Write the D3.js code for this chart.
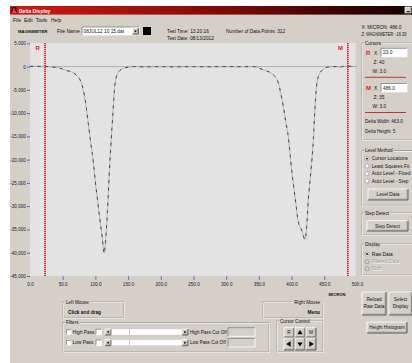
<!DOCTYPE html>
<html><head><meta charset="utf-8">
<script src="https://cdn.jsdelivr.net/npm/d3@7"></script>
<style>
html,body{margin:0;padding:0;background:#fff;overflow:hidden;}
svg{display:block;font-family:"Liberation Sans",Arial,sans-serif;}
</style></head><body>
<svg id="app" width="412" height="363"></svg>
<script>
// Scan profile: position along the part (micron) and measured height
const micron = [0, 12, 23, 31, 45, 56, 66, 71.4, 76, 79, 84.1, 89.1, 93, 96.8, 100, 104, 107, 110.5, 113.4, 115,
  118.2, 122.3, 126.4, 130, 135, 145, 158, 175, 200, 225, 250, 275, 300, 325, 341.5, 356.8, 372, 379.7,
  383.5, 387.3, 391, 395, 400.1, 405.2, 410.3, 415.4, 420.5, 423, 425.5, 429.2, 433.2, 435.8, 439.3, 446,
  456, 469, 473.5, 479.6, 490, 497];
const heightZ = [60, 40, 20, -70, -300, -857, -1300, -1930, -2700, -3700, -6920, -12200, -16500, -20500, -24800,
  -29500, -33000, -36800, -40140, -38500, -31570, -20140, -10860, -3710, -1210, -290, 0, -60, -30, -50, -20,
  -40, -10, -30, 0, -710, -1750, -3500, -5800, -8500, -11800, -15140, -22290, -28000, -33360, -35140, -37140,
  -34430, -28710, -23000, -15860, -8720, -3000, -860, -100, 0, -150, 60, 50, 50];
const yTickValues = [5000, 0, -5000, -10000, -15000, -20000, -25000, -30000, -35000, -40000, -45000];
const xTickValues = [0, 50, 100, 150, 200, 250, 300, 350, 400, 450, 500];
// Cursor readouts
const cursorNames = ["R", "M"];
const cursorX = [23.0, 486.0];
const cursorZ = [40, 35];
const cursorW = [3.0, 3.0];
const levelMethods = ["Cursor Locations", "Least Squares Fit", "Auto Level - Fixed", "Auto Level - Step"];
const displayModes = ["Raw Data", "Filtered Data", "Both"];
const menuItems = ["File", "Edit", "Tools", "Help"];

const BG = "#d4d0c8";
const svg = d3.select("#app");

function txt(g, x, y, s, o = {}) {
  const t = g.append("text").attr("x", x).attr("y", y).text(s)
    .attr("font-size", o.size || 5).attr("font-weight", o.bold ? "bold" : null)
    .attr("fill", o.fill || "#111").attr("text-anchor", o.anchor || "start");
  if (o.fit) t.attr("textLength", o.fit).attr("lengthAdjust", "spacingAndGlyphs");
  return t;
}
function raised(g, x, y, w, h) {
  g.append("rect").attr("x", x).attr("y", y).attr("width", w).attr("height", h).attr("fill", BG);
  g.append("path").attr("d", `M${x},${y + h}V${y}H${x + w}`).attr("stroke", "#fff").attr("fill", "none").attr("stroke-width", 0.8);
  g.append("path").attr("d", `M${x},${y + h}H${x + w}V${y}`).attr("stroke", "#404040").attr("fill", "none").attr("stroke-width", 0.8);
  g.append("path").attr("d", `M${x + 0.8},${y + h - 0.8}H${x + w - 0.8}V${y + 0.8}`).attr("stroke", "#808080").attr("fill", "none").attr("stroke-width", 0.6);
}
function sunken(g, x, y, w, h, fill) {
  g.append("rect").attr("x", x).attr("y", y).attr("width", w).attr("height", h).attr("fill", fill || "#fff");
  g.append("path").attr("d", `M${x},${y + h}V${y}H${x + w}`).attr("stroke", "#808080").attr("fill", "none").attr("stroke-width", 0.8);
  g.append("path").attr("d", `M${x},${y + h}H${x + w}V${y}`).attr("stroke", "#fff").attr("fill", "none").attr("stroke-width", 0.8);
}
function groupBox(g, x, y, w, h, label, anchor) {
  g.append("rect").attr("x", x).attr("y", y).attr("width", w).attr("height", h)
    .attr("fill", "none").attr("stroke", "#808080").attr("stroke-width", 0.6);
  g.append("rect").attr("x", x + 0.7).attr("y", y + 0.7).attr("width", w).attr("height", h)
    .attr("fill", "none").attr("stroke", "#fff").attr("stroke-width", 0.6);
  if (label) {
    const t = txt(g, anchor === "end" ? x + w - 3 : x + 3, y + 1.7, label, { size: 4.6, anchor: anchor });
    const b = t.node().getBBox();
    g.insert("rect", () => t.node()).attr("x", b.x - 0.6).attr("y", b.y).attr("width", b.width + 1.2)
      .attr("height", b.height).attr("fill", BG);
  }
}
function radio(g, x, cy, label, checked, disabled) {
  g.append("circle").attr("cx", x).attr("cy", cy).attr("r", 2.1).attr("fill", disabled ? BG : "#fff")
    .attr("stroke", "#808080").attr("stroke-width", 0.6);
  if (checked) g.append("circle").attr("cx", x).attr("cy", cy).attr("r", 0.9).attr("fill", disabled ? "#888" : "#000");
  if (disabled) txt(g, x + 5.2, cy + 2.2, label, { size: 4.8, fill: "#fff" });
  txt(g, x + 4.7, cy + 1.7, label, { size: 4.8, fill: disabled ? "#9a9a9a" : "#111" });
}
function tri(g, cx, cy, dir, s) {
  const p = { up: [[0, -s], [s, s * 0.6], [-s, s * 0.6]], down: [[0, s], [s, -s * 0.6], [-s, -s * 0.6]],
    left: [[-s, 0], [s * 0.6, -s], [s * 0.6, s]], right: [[s, 0], [-s * 0.6, -s], [-s * 0.6, s]] }[dir];
  g.append("path").attr("d", "M" + p.map(d => [cx + d[0], cy + d[1]].join(",")).join("L") + "Z").attr("fill", "#000");
}

// Window frame
svg.append("rect").attr("x", 10).attr("y", 6).attr("width", 402).attr("height", 357).attr("fill", BG);
const grad = svg.append("defs").append("linearGradient").attr("id", "tb");
grad.append("stop").attr("offset", "0").attr("stop-color", "#d21a14");
grad.append("stop").attr("offset", "0.55").attr("stop-color", "#7a0a06");
grad.append("stop").attr("offset", "1").attr("stop-color", "#120000");
svg.append("rect").attr("x", 10).attr("y", 6).attr("width", 402).attr("height", 8.6).attr("fill", "url(#tb)");
svg.append("rect").attr("x", 11.5).attr("y", 7.2).attr("width", 5).attr("height", 6).attr("fill", "#1a0000");
svg.append("path").attr("d", "M12,13 L14,7.5 L16.5,13Z").attr("fill", "#ff4a3a");
txt(svg, 19, 12.6, "Delta Display", { size: 5, bold: true, fill: "#fff" });
raised(svg, 405, 7, 6.5, 6.5);
svg.append("rect").attr("x", 406.6).attr("y", 11).attr("width", 3).attr("height", 0.8).attr("fill", "#000");

// Menu bar
const menuX = [13, 24, 35.7, 51];
menuItems.forEach((m, i) => txt(svg, menuX[i], 21.6, m, { size: 5 }));

// Toolbar
txt(svg, 18, 32.8, "MAGNIMETER", { size: 4.3, bold: true });
txt(svg, 57, 32.8, "File Name", { size: 5 });
sunken(svg, 82, 27, 57, 8);
txt(svg, 83.5, 33, "08JUL12 10 15.dat", { size: 4.8 });
raised(svg, 132.5, 28, 6, 6.2);
tri(svg, 135.5, 31.3, "down", 1.3);
svg.append("rect").attr("x", 143).attr("y", 27).attr("width", 8).attr("height", 8).attr("fill", "#000");
txt(svg, 167, 32.5, "Test Time: 13:20:16", { size: 4.8 });
txt(svg, 167, 39.6, "Test Date: 08/13/2012", { size: 4.8 });
txt(svg, 226, 32.5, "Number of Data Points: 312", { size: 4.8 });
txt(svg, 361.5, 29, "X: MICRON: " + cursorX[1].toFixed(1), { size: 4.5, fit: 40 });
txt(svg, 361.5, 36, "Z: MAGNIMETER: -16.30", { size: 4.5, fit: 45 });

// Plot
const x = d3.scaleLinear().domain([0, 500]).range([30, 357]);
const y = d3.scaleLinear().domain([-45000, 5000]).range([276, 43.3]);
const plotL = 30, plotR = 355.5, plotT = 43, plotB = 276;
svg.append("rect").attr("x", plotL).attr("y", plotT).attr("width", plotR - plotL).attr("height", plotB - plotT).attr("fill", "#e3e3e3");
svg.select("defs").append("clipPath").attr("id", "plotclip").append("rect")
  .attr("x", plotL).attr("y", plotT).attr("width", plotR - plotL + 1).attr("height", plotB - plotT);

const fmtY = d => d3.format(",")(d).replace("\u2212", "-");
const yAxis = svg.append("g").attr("transform", `translate(${plotL},0)`)
  .call(d3.axisLeft(y).tickValues(yTickValues).tickSize(3).tickPadding(1.2).tickFormat(fmtY));
yAxis.select(".domain").remove();
yAxis.selectAll(".tick line").attr("stroke", "#3346d8").attr("stroke-width", 0.8);
yAxis.selectAll(".tick text").attr("font-size", 4.6).attr("fill", "#222").attr("font-family", "Liberation Sans, Arial, sans-serif");

const xAxis = svg.append("g").attr("transform", `translate(0,${plotB})`)
  .call(d3.axisBottom(x).tickValues(xTickValues).tickSize(4).tickPadding(3.2).tickFormat(d3.format(".1f")));
xAxis.select(".domain").remove();
xAxis.selectAll(".tick line").attr("stroke", "#3346d8").attr("stroke-width", 0.8)
  .attr("opacity", d => (d === 0 || d === 500) ? 0 : 0.85);
xAxis.selectAll(".tick text").attr("font-size", 4.6).attr("fill", "#222").attr("font-family", "Liberation Sans, Arial, sans-serif");
txt(svg, 337, 296, "MICRON", { size: 4.2, bold: true, anchor: "middle" });

// Zero reference
svg.append("line").attr("x1", plotL).attr("x2", x(500)).attr("y1", y(0)).attr("y2", y(0))
  .attr("stroke", "#a4a4a4").attr("stroke-width", 0.8);

// Profile line: light trace with darker dashes on top
const pts = micron.map((m, i) => [m, heightZ[i]]);
const line = d3.line().x(d => x(d[0])).y(d => y(d[1])).curve(d3.curveMonotoneX);
const plotG = svg.append("g").attr("clip-path", "url(#plotclip)");
plotG.append("path").attr("d", line(pts)).attr("fill", "none").attr("stroke", "#a0a0a0").attr("stroke-width", 0.7);
plotG.append("path").attr("d", line(pts)).attr("fill", "none").attr("stroke", "#2a2a2a").attr("stroke-width", 0.8)
  .attr("stroke-dasharray", "3,4.5");

// Cursors
cursorNames.forEach((nm, i) => {
  const cx = x(cursorX[i]);
  svg.append("line").attr("x1", cx).attr("x2", cx).attr("y1", plotT).attr("y2", plotB)
    .attr("stroke", "#e85050").attr("stroke-width", 0.7);
  svg.append("line").attr("x1", cx).attr("x2", cx).attr("y1", plotT).attr("y2", plotB)
    .attr("stroke", "#e01818").attr("stroke-width", 1.6).attr("stroke-dasharray", "1,1");
  txt(svg, cx - 7.3, 49.6, nm, { size: 6, bold: true, fill: "#e01a1a", anchor: "middle" });
});

// Mouse boxes
groupBox(svg, 63, 302, 61, 16, "Left Mouse");
txt(svg, 68, 313.8, "Click and drag", { size: 4.8, bold: true });
groupBox(svg, 263, 302, 60, 16, "Right Mouse", "end");
txt(svg, 320, 313.8, "Menu", { size: 4.8, bold: true, anchor: "end" });

// Filters
groupBox(svg, 63, 322.5, 206, 29.5, "Filters");
[["High Pass", "High Pass Cut Off", 332], ["Low Pass", "Low Pass Cut Off", 342.7]].forEach(([a, b, cy]) => {
  sunken(svg, 66.5, cy - 2.2, 4.4, 4.4);
  txt(svg, 72.6, cy + 1.7, a, { size: 4.8 });
  sunken(svg, 96, cy - 2.8, 5.5, 5.5);
  svg.append("rect").attr("x", 105).attr("y", cy - 3).attr("width", 83).attr("height", 6).attr("fill", "#fff");
  raised(svg, 105, cy - 3, 6, 6); tri(svg, 108, cy, "left", 1.3);
  raised(svg, 182, cy - 3, 6, 6); tri(svg, 185, cy, "right", 1.3);
  svg.append("line").attr("x1", 129.5).attr("x2", 129.5).attr("y1", cy - 3).attr("y2", cy + 3).attr("stroke", "#aaa").attr("stroke-width", 0.6);
  svg.append("rect").attr("x", 111).attr("y", cy - 3).attr("width", 71).attr("height", 6).attr("fill", "none").attr("stroke", "#c8c8c8").attr("stroke-width", 0.4);
  txt(svg, 190, cy + 1.7, b, { size: 4.6 });
  sunken(svg, 228, cy - 4.3, 27, 8.6, BG);
});

// Cursor control
groupBox(svg, 277, 321, 46, 31, "Cursor Control");
raised(svg, 284, 327.7, 10, 9.6); txt(svg, 289, 334.3, "R", { size: 4.6, anchor: "middle" });
raised(svg, 295, 327.7, 10, 9.6); tri(svg, 300, 332.6, "up", 2.6);
raised(svg, 306, 327.7, 10, 9.6); txt(svg, 311, 334.3, "M", { size: 4.6, anchor: "middle" });
raised(svg, 284, 338, 10, 12); tri(svg, 289, 344, "left", 2.8);
raised(svg, 295, 338, 10, 12); tri(svg, 300, 344, "down", 2.6);
raised(svg, 306, 338, 10, 12); tri(svg, 311, 344, "right", 2.8);

// Right panel: cursors
groupBox(svg, 362, 43, 55, 97, "Cursors");
const rowY = [52.5, 87.7];
cursorNames.forEach((nm, i) => {
  const cy = rowY[i];
  txt(svg, 366, cy + 2.3, nm, { size: 6, bold: true, fill: "#e01a1a" });
  txt(svg, 374, cy + 2, "X", { size: 5 });
  sunken(svg, 381, cy - 4.2, 26, 8.4);
  txt(svg, 383, cy + 1.9, cursorX[i].toFixed(1), { size: 4.8 });
  txt(svg, 373.5, cy + 11.3, "Z:  " + cursorZ[i], { size: 4.8 });
  txt(svg, 372.5, cy + 20.5, "W:  " + cursorW[i].toFixed(1), { size: 4.8 });
  svg.append("line").attr("x1", 365).attr("x2", 406).attr("y1", cy + 24.8).attr("y2", cy + 24.8)
    .attr("stroke", "#b02828").attr("stroke-width", 0.9);
});
txt(svg, 365, 122.5, "Delta Width: " + (cursorX[1] - cursorX[0]).toFixed(1), { size: 4.6 });
txt(svg, 365, 132.5, "Delta Height: " + (cursorZ[0] - cursorZ[1]), { size: 4.6 });

// Level method
groupBox(svg, 362, 150.7, 55, 54.5, "Level Method");
const lmY = [158.7, 166, 173.7, 181];
levelMethods.forEach((l, i) => radio(svg, 367, lmY[i], l, i === 0, false));
raised(svg, 368, 189, 40, 11); txt(svg, 388, 196.2, "Level Data", { size: 4.8, anchor: "middle" });

// Step detect
groupBox(svg, 362, 213, 55, 22, "Step Detect");
raised(svg, 367, 220.7, 41, 10.3); txt(svg, 387.5, 227.6, "Step Detect", { size: 4.8, anchor: "middle" });

// Display
groupBox(svg, 362, 244, 55, 31, "Display");
const dmY = [254, 261.7, 268.7];
displayModes.forEach((l, i) => radio(svg, 367, dmY[i], l, i === 0, i > 0));

raised(svg, 362, 292, 24, 23);
txt(svg, 374, 301, "Reload", { size: 4.8, anchor: "middle" });
txt(svg, 374, 307.5, "Raw Data", { size: 4.8, anchor: "middle" });
raised(svg, 389, 292, 23, 23);
txt(svg, 400.5, 301, "Select", { size: 4.8, anchor: "middle" });
txt(svg, 400.5, 307.5, "Display", { size: 4.8, anchor: "middle" });
raised(svg, 367, 322, 40, 11);
txt(svg, 387, 329.3, "Height Histogram", { size: 4.6, anchor: "middle" });
</script>
</body></html>
